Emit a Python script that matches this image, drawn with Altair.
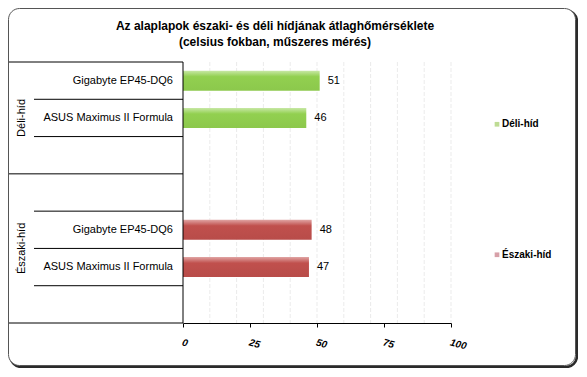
import altair as alt
import pandas as pd

# ---- data ----
title_lines = ["Az alaplapok északi- és déli hídjának átlaghőmérséklete",
               "(celsius fokban, műszeres mérés)"]
groups = ["Déli-híd", "Északi-híd"]
boards = ["Gigabyte EP45-DQ6", "ASUS Maximus II Formula"]
deli_values = [51, 46]
eszaki_values = [48, 47]
x_ticks = [0, 25, 50, 75, 100]
grid_values = [10, 20, 30, 40, 50, 60, 70, 80, 90, 100]

FONT = "Liberation Sans"
W, H = 268, 261

# category slot layout (Excel-like nested axis): Déli-híd uses 3 slots, Északi-híd 4
group_slots = {"Déli-híd": (0, 3, 0), "Északi-híd": (3, 7, 4)}  # start, end, first board slot
series_values = {"Déli-híd": deli_values, "Északi-híd": eszaki_values}

rows = []
for g in groups:
    start, end, first = group_slots[g]
    for i, b in enumerate(boards):
        s = first + i
        rows.append({"group": g, "board": b, "value": series_values[g][i],
                     "yc": s + 0.5, "y0": s + 0.232, "y1": s + 0.768})
df = pd.DataFrame(rows)

inner_bounds = []
full_bounds = [0]
group_rows = []
for g in groups:
    start, end, first = group_slots[g]
    full_bounds.append(end)
    for s in range(start + 1, end):
        inner_bounds.append(s)
    group_rows.append({"group": g, "yc": (start + end) / 2, "yl": (start + end) / 2 + 0.17})
gdf = pd.DataFrame(group_rows)

xscale = alt.Scale(domain=[0, 100], nice=False, zero=True)
yscale = alt.Scale(domain=[0, 7], reverse=True, nice=False, zero=False)
xaxis = alt.Axis(values=x_ticks, grid=False, domainColor="black", tickColor="black",
                 tickSize=4, labelAngle=15, labelAlign="left", labelBaseline="top",
                 labelFontWeight="bold", labelFontStyle="italic", labelFont=FONT,
                 labelFontSize=10, labelPadding=10, labelColor="black", title=None,
                 labelFlush=False, labelOverlap=False, zindex=1)


def X(field):
    return alt.X(field, type="quantitative", scale=xscale, axis=xaxis)


def Y(field):
    return alt.Y(field, type="quantitative", scale=yscale, axis=None)


one = pd.DataFrame({"k": [0]})

shadow = alt.Chart(one).mark_rect(fill="white", stroke="#2a2a2a", strokeWidth=2.5,
                                  cornerRadius=11).encode(
    x=alt.value(-172.5), x2=alt.value(394), y=alt.value(-51.5), y2=alt.value(305))
frame = alt.Chart(one).mark_rect(fill="white", stroke="#555555", strokeWidth=1,
                                 cornerRadius=11).encode(
    x=alt.value(-174.5), x2=alt.value(392.5), y=alt.value(-53.5), y2=alt.value(303.5))

title = alt.Chart(pd.DataFrame({"t": ["\n".join(title_lines)]})).mark_text(
    font=FONT, fontSize=12, fontWeight="bold", align="center", baseline="top",
    lineBreak="\n", lineHeight=16, color="black").encode(
    x=alt.value(92), y=alt.value(-41), text="t:N")

grid = alt.Chart(pd.DataFrame({"g": grid_values})).mark_rule(
    color="#ebebeb", strokeWidth=1, strokeDash=[4, 2]).encode(
    x=X("g"), y=alt.value(0), y2=alt.value(H))

colors = {
    "Déli-híd": ("#c8e8a6", "#92d050", "#8cc84c"),
    "Északi-híd": ("#e0a4a3", "#c0504d", "#b84c49"),
}
bar_layers = []
for g in groups:
    light, main, dark = colors[g]
    grad = alt.LinearGradient(gradient="linear", x1=0, x2=0, y1=0, y2=1, stops=[
        alt.GradientStop(color=light, offset=0),
        alt.GradientStop(color=main, offset=0.3),
        alt.GradientStop(color=dark, offset=1)])
    bar_layers.append(alt.Chart(df[df.group == g]).mark_bar(color=grad).encode(
        x=X("value"), x2=alt.datum(0), y=Y("y0"), y2="y1"))

vals = alt.Chart(df).mark_text(font=FONT, fontSize=11, align="left", baseline="middle",
                               dx=8, color="black").encode(
    x=X("value"), y=Y("yc"), text="value:Q")

cats = alt.Chart(df).mark_text(font=FONT, fontSize=11, align="right", baseline="middle",
                               color="black").encode(
    x=alt.value(-10), y=Y("yc"), text="board:N")

glabels = alt.Chart(gdf).mark_text(font=FONT, fontSize=11, align="center", baseline="middle",
                                   angle=270, color="black").encode(
    x=alt.value(-161), y=Y("yc"), text="group:N")

inner_rules = alt.Chart(pd.DataFrame({"b": inner_bounds})).mark_rule(
    color="black", strokeWidth=1).encode(x=alt.value(-149), x2=alt.value(0), y=Y("b"))
full_rules = alt.Chart(pd.DataFrame({"b": full_bounds})).mark_rule(
    color="black", strokeWidth=1).encode(x=alt.value(-174), x2=alt.value(0), y=Y("b"))
yline = alt.Chart(one).mark_rule(color="black", strokeWidth=1).encode(
    x=alt.value(0), y=alt.value(0), y2=alt.value(H))

leg_sq = alt.Chart(gdf).mark_square(size=22, opacity=1).encode(
    x=alt.value(314), y=Y("yl"),
    color=alt.Color("group:N", scale=alt.Scale(domain=groups, range=["#bedc94", "#d7a0a8"]),
                    legend=None))
leg_txt = alt.Chart(gdf).mark_text(font=FONT, fontSize=10, fontWeight="bold", align="left",
                                   baseline="middle", color="black").encode(
    x=alt.value(319), y=Y("yl"), text="group:N")

chart = alt.layer(shadow, frame, title, grid, *bar_layers, vals, cats, glabels,
                  inner_rules, full_rules, yline, leg_sq, leg_txt).properties(
    width=W, height=H,
    autosize=alt.AutoSizeParams(type="none"),
    padding={"left": 175, "top": 54, "right": 127, "bottom": 45},
    background="white",
).configure_view(strokeWidth=0)

chart.save("out.html", embed_options={"renderer": "svg", "actions": False})
